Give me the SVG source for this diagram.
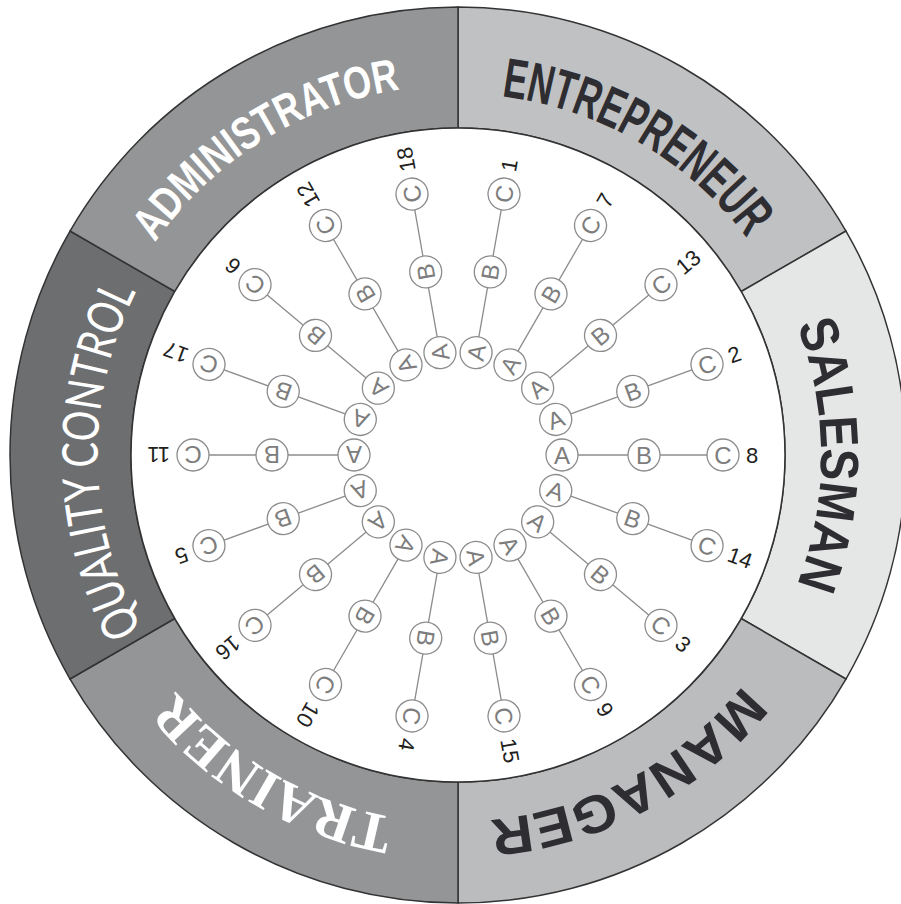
<svg xmlns="http://www.w3.org/2000/svg" width="901" height="904" viewBox="0 0 901 904">
<style>
.sec{stroke:#333;stroke-width:1.5}
.lab{font-family:"Liberation Sans",Arial,sans-serif;font-weight:bold}
.cond{font-family:"Liberation Sans Narrow","Liberation Sans",Arial,sans-serif;font-weight:bold}
.ser{font-family:"Liberation Serif","Times New Roman",serif;font-weight:bold}
.conn line{stroke:#8c8c8c;stroke-width:1.3}
.c{fill:#fff;stroke:#8c8c8c;stroke-width:1.3}
.l{font-family:"Liberation Sans",Arial,sans-serif;font-size:24px;fill:#7d7d7d;text-anchor:middle}
.n{font-family:"Liberation Sans",Arial,sans-serif;font-size:22px;fill:#231f20}
</style>
<defs>
<path id="pE" d="M 144.5 274 A 362 362 0 0 1 771.5 636"/>
<path id="pS" d="M 458 92 A 363 363 0 0 1 458 818"/>
<path id="pM" d="M 782.9 282.2 A 368 368 0 0 1 133.1 627.8"/>
<path id="pT" d="M 776.7 639 A 368 368 0 0 1 139.3 271"/>
<path id="pQ" d="M 464.4 820.9 A 366 366 0 0 1 451.6 89.1"/>
<path id="pA" d="M 144.2 651.1 A 370 370 0 0 1 771.8 258.9"/>
<g id="spoke">
<circle class="c" cx="562" cy="455" r="16"/><text class="l" x="562" y="463.6">A</text>
<circle class="c" cx="644" cy="455" r="16"/><text class="l" x="644" y="463.6">B</text>
<circle class="c" cx="723" cy="455" r="16"/><text class="l" x="723" y="463.6">C</text>
</g>
</defs>
<rect width="901" height="904" fill="#fff"/>
<g id="ring">
<path class="sec" fill="#c0c1c3" d="M 458 7 A 448 448 0 0 1 845.98 231 L 741.19 291.5 A 327 327 0 0 0 458 128 Z"/>
<path class="sec" fill="#e5e6e6" d="M 845.98 231 A 448 448 0 0 1 845.98 679 L 741.19 618.5 A 327 327 0 0 0 741.19 291.5 Z"/>
<path class="sec" fill="#bbbcbe" d="M 845.98 679 A 448 448 0 0 1 458 903 L 458 782 A 327 327 0 0 0 741.19 618.5 Z"/>
<path class="sec" fill="#939596" d="M 458 903 A 448 448 0 0 1 70.02 679 L 174.81 618.5 A 327 327 0 0 0 458 782 Z"/>
<path class="sec" fill="#6d6e70" d="M 70.02 679 A 448 448 0 0 1 70.02 231 L 174.81 291.5 A 327 327 0 0 0 174.81 618.5 Z"/>
<path class="sec" fill="#939596" d="M 70.02 231 A 448 448 0 0 1 458 7 L 458 128 A 327 327 0 0 0 174.81 291.5 Z"/>
<circle cx="458" cy="455" r="327" fill="#fff" stroke="#333" stroke-width="1.5"/>
</g>
<g id="label-entrepreneur"><text class="cond" font-size="56" fill="#2e2d31"><textPath href="#pE" startOffset="50%" text-anchor="middle" textLength="291" lengthAdjust="spacingAndGlyphs">ENTREPRENEUR</textPath></text></g>
<g id="label-salesman"><text class="lab" font-size="54" fill="#2e2d31"><textPath href="#pS" startOffset="50%" text-anchor="middle" textLength="266" lengthAdjust="spacingAndGlyphs">SALESMAN</textPath></text></g>
<g id="label-manager"><text class="lab" font-size="53" fill="#2e2d31"><textPath href="#pM" startOffset="50%" text-anchor="middle" textLength="295" lengthAdjust="spacingAndGlyphs">MANAGER</textPath></text></g>
<g id="label-trainer"><text class="ser" font-size="56" fill="#fff"><textPath href="#pT" startOffset="50%" text-anchor="middle" textLength="257" lengthAdjust="spacingAndGlyphs">TRAINER</textPath></text></g>
<g id="label-quality"><text font-family="Lato,'Liberation Sans',sans-serif" font-size="50" fill="#fff"><textPath href="#pQ" startOffset="50%" text-anchor="middle" textLength="351" lengthAdjust="spacingAndGlyphs">QUALITY CONTROL</textPath></text></g>
<g id="label-administrator"><text class="cond" font-size="46" fill="#fff"><textPath href="#pA" startOffset="50%" text-anchor="middle" textLength="297" lengthAdjust="spacingAndGlyphs">ADMINISTRATOR</textPath></text></g>
<g id="connectors" class="conn">
<line x1="562" y1="455" x2="723" y2="455" transform="rotate(0 458 455)"/>
<line x1="562" y1="455" x2="723" y2="455" transform="rotate(-20 458 455)"/>
<line x1="562" y1="455" x2="723" y2="455" transform="rotate(-40 458 455)"/>
<line x1="562" y1="455" x2="723" y2="455" transform="rotate(-60 458 455)"/>
<line x1="562" y1="455" x2="723" y2="455" transform="rotate(-80 458 455)"/>
<line x1="562" y1="455" x2="723" y2="455" transform="rotate(-100 458 455)"/>
<line x1="562" y1="455" x2="723" y2="455" transform="rotate(-120 458 455)"/>
<line x1="562" y1="455" x2="723" y2="455" transform="rotate(-140 458 455)"/>
<line x1="562" y1="455" x2="723" y2="455" transform="rotate(-160 458 455)"/>
<line x1="562" y1="455" x2="723" y2="455" transform="rotate(-180 458 455)"/>
<line x1="562" y1="455" x2="723" y2="455" transform="rotate(-200 458 455)"/>
<line x1="562" y1="455" x2="723" y2="455" transform="rotate(-220 458 455)"/>
<line x1="562" y1="455" x2="723" y2="455" transform="rotate(-240 458 455)"/>
<line x1="562" y1="455" x2="723" y2="455" transform="rotate(-260 458 455)"/>
<line x1="562" y1="455" x2="723" y2="455" transform="rotate(-280 458 455)"/>
<line x1="562" y1="455" x2="723" y2="455" transform="rotate(-300 458 455)"/>
<line x1="562" y1="455" x2="723" y2="455" transform="rotate(-320 458 455)"/>
<line x1="562" y1="455" x2="723" y2="455" transform="rotate(-340 458 455)"/>
</g>
<g id="spoke-8" transform="rotate(0 458 455)"><use href="#spoke"/><text class="n" x="746" y="462.8">8</text></g>
<g id="spoke-2" transform="rotate(-20 458 455)"><use href="#spoke"/><text class="n" x="746" y="462.8">2</text></g>
<g id="spoke-13" transform="rotate(-40 458 455)"><use href="#spoke"/><text class="n" x="746" y="462.8">13</text></g>
<g id="spoke-7" transform="rotate(-60 458 455)"><use href="#spoke"/><text class="n" x="746" y="462.8">7</text></g>
<g id="spoke-1" transform="rotate(-80 458 455)"><use href="#spoke"/><text class="n" x="746" y="462.8">1</text></g>
<g id="spoke-18" transform="rotate(-100 458 455)"><use href="#spoke"/><text class="n" x="746" y="462.8">18</text></g>
<g id="spoke-12" transform="rotate(-120 458 455)"><use href="#spoke"/><text class="n" x="746" y="462.8">12</text></g>
<g id="spoke-6" transform="rotate(-140 458 455)"><use href="#spoke"/><text class="n" x="746" y="462.8">6</text></g>
<g id="spoke-17" transform="rotate(-160 458 455)"><use href="#spoke"/><text class="n" x="746" y="462.8">17</text></g>
<g id="spoke-11" transform="rotate(-180 458 455)"><use href="#spoke"/><text class="n" x="746" y="462.8">11</text></g>
<g id="spoke-5" transform="rotate(-200 458 455)"><use href="#spoke"/><text class="n" x="746" y="462.8">5</text></g>
<g id="spoke-16" transform="rotate(-220 458 455)"><use href="#spoke"/><text class="n" x="746" y="462.8">16</text></g>
<g id="spoke-10" transform="rotate(-240 458 455)"><use href="#spoke"/><text class="n" x="746" y="462.8">10</text></g>
<g id="spoke-4" transform="rotate(-260 458 455)"><use href="#spoke"/><text class="n" x="746" y="462.8">4</text></g>
<g id="spoke-15" transform="rotate(-280 458 455)"><use href="#spoke"/><text class="n" x="746" y="462.8">15</text></g>
<g id="spoke-9" transform="rotate(-300 458 455)"><use href="#spoke"/><text class="n" x="746" y="462.8">9</text></g>
<g id="spoke-3" transform="rotate(-320 458 455)"><use href="#spoke"/><text class="n" x="746" y="462.8">3</text></g>
<g id="spoke-14" transform="rotate(-340 458 455)"><use href="#spoke"/><text class="n" x="746" y="462.8">14</text></g>
</svg>
